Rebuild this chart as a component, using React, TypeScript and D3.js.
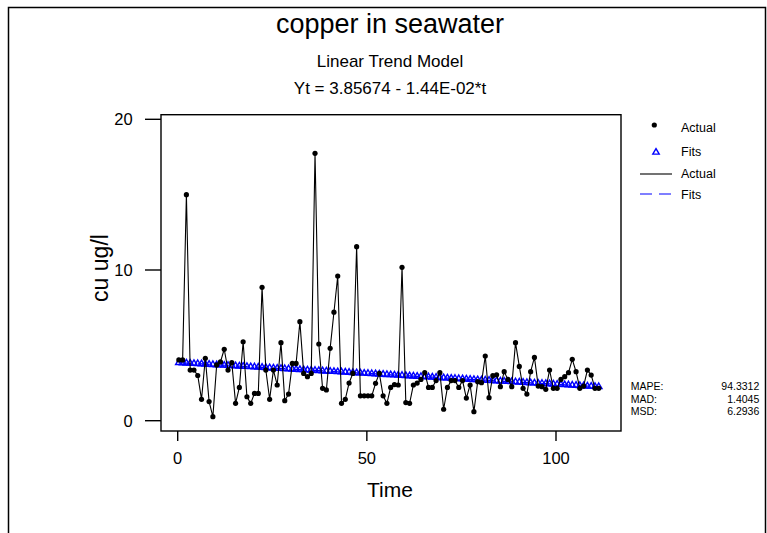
import React from "react";
import * as d3 from "d3";

const actual: number[] = [
  4.03, 4.03, 15.0, 3.36, 3.36, 3.0, 1.42, 4.14, 1.27, 0.27,
  3.7, 3.9, 4.74, 3.36, 3.85, 1.15, 2.21, 5.24, 1.59, 1.15,
  1.81, 1.81, 8.85, 3.36, 1.42, 3.36, 2.37, 5.18, 1.33, 1.77,
  3.8, 3.8, 6.57, 3.14, 2.92, 3.14, 17.74, 5.09, 2.15, 2.04,
  4.8, 7.2, 9.6, 1.15, 1.42, 2.5, 3.14, 11.55, 1.65, 1.65,
  1.65, 1.65, 2.48, 3.14, 1.65, 1.15, 2.21, 2.4, 2.37, 10.18,
  1.2, 1.15, 2.37, 2.5, 2.74, 3.19, 2.21, 2.21, 2.66, 3.19,
  0.76, 2.21, 2.66, 2.66, 2.21, 2.66, 1.5, 2.37, 0.6, 2.59,
  2.52, 4.29, 1.53, 2.99, 3.05, 2.26, 3.25, 2.74, 2.26, 5.18,
  3.6, 2.15, 1.77, 3.25, 4.2, 2.3, 2.26, 2.08, 3.36, 2.15,
  2.15, 2.74, 2.92, 3.19, 4.07, 3.25, 2.15, 2.3, 3.36, 3.03,
  2.15, 2.15,
];
const times: number[] = actual.map((_, i) => i + 0.3);
const intercept = 3.85674;
const slope = -0.0144;
const fits: number[] = times.map((t) => intercept + slope * t);

const xTicks = [0, 50, 100];
const yTicks = [0, 10, 20];
const statLabels = ["MAPE:", "MAD:", "MSD:"];
const statValues = ["94.3312", "1.4045", "6.2936"];

const FONT = "'Liberation Sans', Arial, sans-serif";

export default function App() {
  const W = 767, H = 533;
  const frame = { left: 161, right: 621, top: 114.7, bottom: 431 };
  const x = d3.scaleLinear().domain([0, 100]).range([177.7, 556]);
  const y = d3.scaleLinear().domain([0, 20]).range([420.7, 119.3]);

  const lineGen = d3.line<number>().x((_, i) => x(times[i])).y((d) => y(d));
  const tri = d3.symbol().type(d3.symbolTriangle).size(18)();

  return (
    <div style={{ position: "fixed", left: 0, top: 0 }}>
      <svg width={W} height={H} style={{ display: "block", background: "#fff" }} fontFamily={FONT}>
        {/* outer border */}
        <path d={`M8.5,${H} L8.5,7.5 L765.5,7.5 L765.5,${H}`} fill="none" stroke="#000" strokeWidth={1.5} />

        {/* titles */}
        <text x={390} y={33} fontSize={27} textAnchor="middle">copper in seawater</text>
        <text x={390} y={66.5} fontSize={17} textAnchor="middle">Linear Trend Model</text>
        <text x={390} y={94} fontSize={17} textAnchor="middle">Yt = 3.85674 - 1.44E-02*t</text>

        {/* plot frame */}
        <rect x={frame.left} y={frame.top} width={frame.right - frame.left} height={frame.bottom - frame.top}
          fill="none" stroke="#000" strokeWidth={1.4} />

        {/* y axis */}
        {yTicks.map((t) => (
          <g key={"y" + t}>
            <line x1={145} x2={frame.left} y1={y(t)} y2={y(t)} stroke="#000" strokeWidth={1.4} />
            <text x={132.7} y={y(t) + 6} fontSize={16.5} textAnchor="end">{t}</text>
          </g>
        ))}
        <text transform={`translate(108,268) rotate(-90)`} fontSize={23} textAnchor="middle">cu ug/l</text>

        {/* x axis */}
        {xTicks.map((t) => (
          <g key={"x" + t}>
            <line x1={x(t)} x2={x(t)} y1={frame.bottom} y2={441} stroke="#000" strokeWidth={1.4} />
            <text x={x(t)} y={464} fontSize={16.5} textAnchor="middle">{t}</text>
          </g>
        ))}
        <text x={390} y={497} fontSize={21} textAnchor="middle">Time</text>

        {/* fits */}
        <path d={lineGen(fits) || ""} fill="none" stroke="#0000ff" strokeWidth={1.2} strokeDasharray="12,7" />
        {fits.map((v, i) => (
          <path key={"f" + i} d={tri || ""} transform={`translate(${x(times[i])},${y(v)})`}
            fill="none" stroke="#0000ff" strokeWidth={1.4} />
        ))}

        {/* actual */}
        <path d={lineGen(actual) || ""} fill="none" stroke="#000" strokeWidth={1.1} />
        {actual.map((v, i) => (
          <circle key={"a" + i} cx={x(times[i])} cy={y(v)} r={2.6} fill="#000" />
        ))}

        {/* legend */}
        <circle cx={654.3} cy={125} r={2.6} fill="#000" />
        <text x={681} y={131.5} fontSize={12.5}>Actual</text>
        <path d={tri || ""} transform="translate(656,152.3)" fill="none" stroke="#0000ff" strokeWidth={1.4} />
        <text x={681} y={156} fontSize={12.5}>Fits</text>
        <line x1={640} x2={672} y1={174} y2={174} stroke="#000" strokeWidth={1.1} />
        <text x={681} y={177.5} fontSize={12.5}>Actual</text>
        <line x1={640} x2={672} y1={194} y2={194} stroke="#0000ff" strokeWidth={1.2} strokeDasharray="12,7" />
        <text x={681} y={198.5} fontSize={12.5}>Fits</text>

        {/* stats */}
        {statLabels.map((s, i) => (
          <g key={s}>
            <text x={630.7} y={389.7 + i * 12.8} fontSize={10.5}>{s}</text>
            <text x={759.3} y={389.7 + i * 12.8} fontSize={10.5} textAnchor="end">{statValues[i]}</text>
          </g>
        ))}
      </svg>
    </div>
  );
}
